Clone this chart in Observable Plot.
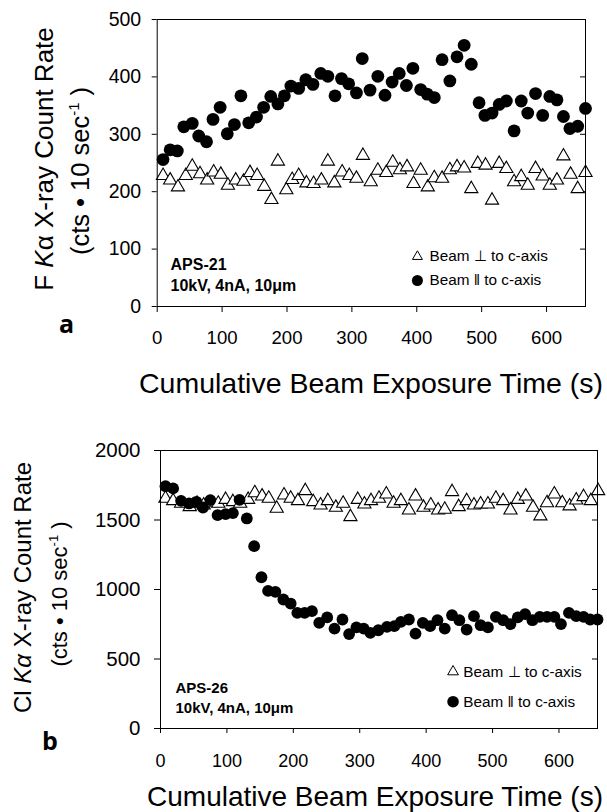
<!DOCTYPE html>
<html><head><meta charset="utf-8">
<script src="https://cdn.jsdelivr.net/npm/d3@7"></script>
<script src="https://cdn.jsdelivr.net/npm/@observablehq/plot@0.6"></script>
<style>
body{margin:0;background:#fff;}
#chart{position:relative;width:607px;height:812px;background:#fff;}
#chart svg{display:block;}
</style></head><body><div id="chart"></div>
<script>
// Panel a: F Kα (APS-21)
const timeAPerp = [9,20,32,44,54,66,77,87,98,109,121,133,143,154,165,176,186,199,208,218,230,241,253,263,273,285,296,307,317,329,340,353,363,374,385,395,406,417,427,439,451,462,473,484,494,506,516,527,538,550,561,571,583,594,605,616,626,637,648,660];
const countAPerp = [228,220,208,228,244,231,220,234,230,211,220,218,233,228,209,186,253,203,221,228,215,214,220,253,215,234,228,223,263,217,237,233,251,238,243,214,237,208,224,223,238,243,241,205,249,246,185,249,240,217,226,211,240,227,211,220,262,230,205,233];
const timeAPar = [9,20,31,41,54,64,76,86,97,108,119,129,141,153,164,175,186,196,206,218,229,240,252,263,274,284,295,307,316,328,340,351,362,373,384,394,406,416,427,439,451,462,473,484,496,505,516,527,538,550,561,571,583,594,605,616,626,636,648,660];
const countAPar = [256,273,271,313,319,297,287,326,347,301,317,367,320,330,347,366,353,367,384,380,395,387,406,401,367,397,388,372,432,377,401,368,391,406,385,415,378,370,364,430,393,435,455,422,355,333,337,352,358,306,358,337,371,333,366,360,331,310,314,345];

// Panel b: Cl Kα (APS-26)
const timeBPerp = [7.5,19,31,44,55,65,76,87,98,109,120,132,142,153,163,175,186,196,207,218,230,241,252,264,275,286,297,307,317,329,340,351,362,374,384,396,407,418,428,439,449,461,472,482,493,505,516,527,538,550,561,572,582,593,605,616,626,637,648,659];
const countBPerp = [1655,1638,1619,1595,1619,1607,1623,1619,1647,1631,1619,1647,1695,1671,1655,1583,1679,1655,1638,1710,1631,1607,1638,1590,1619,1523,1647,1614,1638,1655,1686,1619,1638,1571,1671,1590,1607,1571,1576,1703,1595,1638,1607,1614,1614,1655,1638,1571,1647,1671,1590,1528,1623,1686,1623,1600,1643,1667,1638,1710];
const timeBPar = [7.5,19,31,43,54,64,75,86,98,109,119,130,141,152,162,173,185,196,206,217,228,239,251,262,274,284,295,306,316,328,341,352,362,374,384,395,406,417,428,439,450,461,472,482,493,505,516,527,538,549,560,571,582,593,603,615,626,637,647,658];
const countBPar = [1743,1727,1638,1619,1631,1590,1643,1535,1542,1550,1645,1511,1312,1088,990,983,928,899,832,832,844,760,799,719,784,679,727,719,688,707,731,736,767,784,683,760,736,779,719,815,779,712,808,743,727,803,779,751,799,823,779,803,803,803,751,832,808,803,784,784];

const xTicks = [0,100,200,300,400,500,600];
const yTicksA = [0,100,200,300,400,500];
const yTicksB = [0,500,1000,1500,2000];
const legendLabels = ["Beam \u22A5 to c-axis", "Beam \u2016 to c-axis"];

const rows = (t, v) => t.map((x, i) => ({t: x, v: v[i]}));
const font = "'Liberation Sans', Arial, Helvetica, sans-serif";
const plain = d => String(d);

function addText(svg, {x, y, rotate = 0, size, weight = "normal", family = font, anchor = "middle", parts}) {
  const t = d3.select(svg).append("text")
    .attr("transform", `translate(${x},${y})` + (rotate ? ` rotate(${rotate})` : ""))
    .attr("text-anchor", anchor)
    .attr("fill", "black")
    .style("font-family", family)
    .style("font-size", size + "px")
    .style("font-weight", weight);
  for (const p of parts) {
    const s = t.append("tspan").text(p.text);
    if (p.italic) s.attr("font-style", "italic");
    if (p.size) s.style("font-size", p.size + "px");
    if (p.dy) s.attr("dy", p.dy);
  }
}

// ---------- Panel a ----------
const plotA = Plot.plot({
  width: 607, height: 400,
  marginLeft: 156.7, marginRight: 22, marginTop: 19, marginBottom: 94,
  style: {fontFamily: font, background: "white", color: "black", overflow: "visible"},
  x: {domain: [0, 660]},
  y: {domain: [0, 500]},
  marks: [
    Plot.axisY({ticks: yTicksA, tickSize: 5, tickPadding: 11, fontSize: 19.5, tickFormat: plain, label: null}),
    Plot.axisY({anchor: "right", ticks: yTicksA.slice(1, -1), tickSize: -6, text: null, label: null}),
    Plot.axisX({ticks: xTicks, tickSize: 6, tickPadding: 18, fontSize: 18.6, tickFormat: plain, label: null}),
    Plot.dot(rows(timeAPerp, countAPerp), {x: "t", y: "v", symbol: "triangle", r: 4.9, stroke: "black", fill: "white", strokeWidth: 1.1}),
    Plot.dot(rows(timeAPar, countAPar), {x: "t", y: "v", symbol: "circle", r: 6.4, fill: "black"}),
    Plot.frame({stroke: "black", strokeWidth: 1}),
    Plot.text(["APS-21"], {x: 20.5, y: 73, text: d => d, textAnchor: "start", lineAnchor: "middle", fontSize: 16, fontWeight: "bold"}),
    Plot.text(["10kV, 4nA, 10\u03BCm"], {x: 20.5, y: 36.5, text: d => d, textAnchor: "start", lineAnchor: "middle", fontSize: 16, fontWeight: "bold"}),
    Plot.dot([0], {x: 401, y: 87, symbol: "triangle", r: 3.7, stroke: "black", fill: "white", strokeWidth: 1}),
    Plot.dot([0], {x: 401, y: 45.3, symbol: "circle", r: 5.5, fill: "black"}),
    Plot.text([legendLabels[0]], {x: 419.6, y: 87, text: d => d, textAnchor: "start", lineAnchor: "middle", fontSize: 15.3}),
    Plot.text([legendLabels[1]], {x: 419.6, y: 45.3, text: d => d, textAnchor: "start", lineAnchor: "middle", fontSize: 15.3})
  ]
});
addText(plotA, {x: 53, y: 159, rotate: -90, size: 26, parts: [{text: "F "}, {text: "K", italic: true}, {text: "\u03B1 X-ray Count Rate"}]});
addText(plotA, {x: 89, y: 171, rotate: -90, size: 25.5, parts: [{text: "(cts \u2022 10 sec"}, {text: "-1", size: 15, dy: -10}, {text: " )", dy: 10}]});
addText(plotA, {x: 371, y: 393, size: 28.5, parts: [{text: "Cumulative Beam Exposure Time (s)"}]});
addText(plotA, {x: 59, y: 333, size: 25, weight: "bold", family: "'Open Sans', sans-serif", anchor: "start", parts: [{text: "a"}]});

// ---------- Panel b ----------
const plotB = Plot.plot({
  width: 607, height: 412,
  marginLeft: 160, marginRight: 10, marginTop: 50, marginBottom: 84,
  style: {fontFamily: font, background: "white", color: "black", overflow: "visible"},
  x: {domain: [0, 658]},
  y: {domain: [0, 2000]},
  marks: [
    Plot.axisY({ticks: yTicksB, tickSize: 6, tickPadding: 14, fontSize: 20.5, tickFormat: plain, label: null}),
    Plot.axisY({anchor: "right", ticks: yTicksB.slice(1, -1), tickSize: -6, text: null, label: null}),
    Plot.axisX({ticks: xTicks, tickSize: 5, tickPadding: 21, fontSize: 18, tickFormat: plain, label: null}),
    Plot.dot(rows(timeBPerp, countBPerp), {x: "t", y: "v", symbol: "triangle", r: 4.9, stroke: "black", fill: "white", strokeWidth: 1.1}),
    Plot.dot(rows(timeBPar, countBPar), {x: "t", y: "v", symbol: "circle", r: 5.9, fill: "black"}),
    Plot.frame({stroke: "black", strokeWidth: 1}),
    Plot.text(["APS-26"], {x: 22.6, y: 293, text: d => d, textAnchor: "start", lineAnchor: "middle", fontSize: 15, fontWeight: "bold"}),
    Plot.text(["10kV, 4nA, 10\u03BCm"], {x: 22.6, y: 146, text: d => d, textAnchor: "start", lineAnchor: "middle", fontSize: 15, fontWeight: "bold"}),
    Plot.dot([0], {x: 440.5, y: 408.6, symbol: "triangle", r: 4, stroke: "black", fill: "white", strokeWidth: 1}),
    Plot.dot([0], {x: 440.5, y: 192.8, symbol: "circle", r: 5.8, fill: "black"}),
    Plot.text([legendLabels[0]], {x: 456, y: 408.6, text: d => d, textAnchor: "start", lineAnchor: "middle", fontSize: 15.3}),
    Plot.text([legendLabels[1]], {x: 456, y: 192.8, text: d => d, textAnchor: "start", lineAnchor: "middle", fontSize: 15.3})
  ]
});
addText(plotB, {x: 31, y: 187.5, rotate: -90, size: 24, parts: [{text: "Cl "}, {text: "K\u03B1", italic: true}, {text: " X-ray Count Rate"}]});
addText(plotB, {x: 67, y: 194, rotate: -90, size: 22, parts: [{text: "(cts \u2022 10 sec"}, {text: "-1", size: 13, dy: -9}, {text: " )", dy: 9}]});
addText(plotB, {x: 375, y: 406, size: 28, parts: [{text: "Cumulative Beam Exposure Time (s)"}]});
addText(plotB, {x: 42, y: 350, size: 25, weight: "bold", family: "'Open Sans', sans-serif", anchor: "start", parts: [{text: "b"}]});

const chart = document.getElementById("chart");
chart.appendChild(plotA);
chart.appendChild(plotB);
</script>
</body></html>
